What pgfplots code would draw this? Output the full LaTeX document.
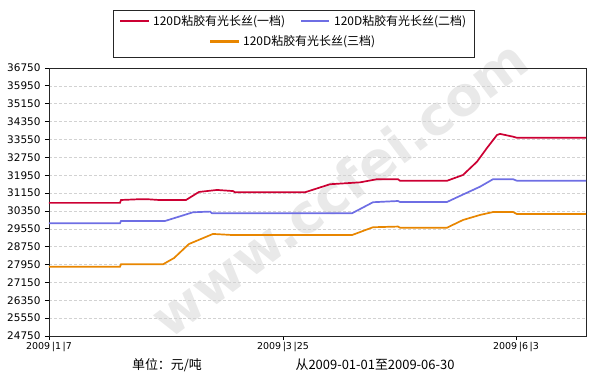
\documentclass[border=0pt]{standalone}
\usepackage{pgfplots}
\pgfplotsset{compat=1.18}
\usepackage{fontspec}
\setmainfont{DejaVu Sans}
\newfontfamily\cjk{Noto Sans CJK SC}
\definecolor{cred}{RGB}{204,0,51}
\definecolor{cblue}{RGB}{110,110,228}
\definecolor{corange}{RGB}{232,134,0}
\begin{document}
\begin{tikzpicture}
\path[use as bounding box] (-49bp,-51bp) rectangle (547bp,336bp);
% watermark
\node[rotate=37, text=gray!17, font=\fontsize{54}{54}\selectfont\bfseries] at (290bp,148bp) {www.ccfei.com};
\begin{axis}[
  at={(0,0)}, anchor=south west,
  width=537bp, height=268bp, scale only axis,
  xmin=0, xmax=537, ymin=24750, ymax=36750,
  scaled y ticks=false,
  ytick={24750,25550,26350,27150,27950,28750,29550,30350,31150,31950,32750,33550,34350,35150,35950,36750},
  yticklabels={24750,25550,26350,27150,27950,28750,29550,30350,31150,31950,32750,33550,34350,35150,35950,36750},
  xtick={0,234,467},
  xticklabels={{2009\,|1\,|7},{2009\,|3\,|25},{2009\,|6\,|3}},
  tick pos=left, tick align=outside,
  major tick length=4bp,
  ymajorgrids,
  major grid style={densely dashed, gray!35, line width=0.5bp},
  axis line style={line width=0.8bp, black!85},
  tick style={line width=0.8bp, black},
  yticklabel style={font=\fontsize{10.5}{10.5}\selectfont, xshift=-1bp},
  xticklabel style={font=\fontsize{9.5}{9.5}\selectfont, yshift=1bp},
]
\addplot[cred, line width=1.7bp] coordinates {
(0,30710) (71,30710) (72,30840) (88,30870) (100,30870) (110,30840) (137,30840)
(150,31200) (168,31290) (184,31240) (186,31185) (256,31185)
(281,31545) (311,31630) (328,31770) (349,31770) (351,31700) (398,31700)
(414,31960) (428,32555) (438,33170) (448,33750) (451,33800) (464,33675) (468,33625) (537,33625)
};
\addplot[cblue, line width=1.7bp] coordinates {
(0,29800) (71,29800) (72,29900) (116,29900) (144,30290) (161,30320) (163,30245) (303,30245)
(324,30740) (349,30795) (351,30750) (398,30750)
(408,30960) (431,31435) (444,31770) (464,31770) (468,31700) (537,31700)
};
\addplot[corange, line width=1.7bp] coordinates {
(0,27850) (71,27850) (72,27960) (114,27960) (125,28240) (140,28870) (164,29320) (184,29270) (303,29270)
(324,29620) (349,29650) (351,29600) (398,29600)
(414,29945) (431,30170) (444,30300) (464,30300) (468,30210) (537,30210)
};
\end{axis}
% legend
\draw[line width=0.8bp, black!85, fill=white] (64bp,278.4bp) rectangle (425bp,326bp);
\fill[cred] (71bp,313.5bp) rectangle (100bp,315.5bp);
\node[anchor=west, inner sep=0pt, font=\cjk\fontsize{12}{12}\selectfont] at (104bp,314.5bp) {120D粘胶有光长丝(一档)};
\fill[cblue] (252bp,313.5bp) rectangle (280bp,315.5bp);
\node[anchor=west, inner sep=0pt, font=\cjk\fontsize{12}{12}\selectfont] at (285bp,314.5bp) {120D粘胶有光长丝(二档)};
\fill[corange] (161bp,293.4bp) rectangle (190bp,295.8bp);
\node[anchor=west, inner sep=0pt, font=\cjk\fontsize{12}{12}\selectfont] at (194bp,294.6bp) {120D粘胶有光长丝(三档)};
% bottom texts
\node[font=\cjk\fontsize{13}{13}\selectfont] at (118bp,-29bp) {单位：元/吨};
\node[font=\cjk\fontsize{13}{13}\selectfont] at (326bp,-29bp) {从2009-01-01至2009-06-30};
\end{tikzpicture}
\end{document}
